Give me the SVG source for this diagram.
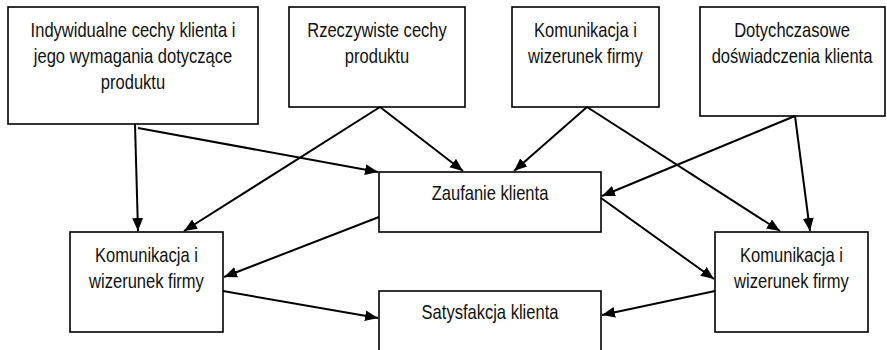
<svg xmlns="http://www.w3.org/2000/svg" width="887" height="350" viewBox="0 0 887 350">
<style>
.box{fill:#fff;stroke:#000;stroke-width:1.6}
.lbl{font-family:"Liberation Sans",Arial,sans-serif;font-size:19.5px;fill:#111;text-anchor:middle}
.conn line{stroke:#000;stroke-width:2;marker-end:url(#ah)}
</style>
<defs>
<marker id="ah" markerUnits="userSpaceOnUse" markerWidth="13" markerHeight="11" refX="12" refY="5" orient="auto" viewBox="0 0 12 10">
<path d="M0,0 L12,5 L0,10 Z" fill="#000"/>
</marker>
</defs>
<rect width="887" height="350" fill="#fff"/>
<g id="n1"><rect class="box" x="8" y="7" width="250" height="117"/>
<g transform="translate(133,0) scale(0.848,1)"><text class="lbl" x="0" y="37">Indywidualne cechy klienta i</text><text class="lbl" x="0" y="63">jego wymagania dotyczące</text><text class="lbl" x="0" y="89">produktu</text></g></g>
<g id="n2"><rect class="box" x="289" y="7" width="176" height="100"/>
<g transform="translate(377,0) scale(0.848,1)"><text class="lbl" x="0" y="37">Rzeczywiste cechy</text><text class="lbl" x="0" y="63">produktu</text></g></g>
<g id="n3"><rect class="box" x="512" y="7" width="147" height="100"/>
<g transform="translate(585.5,0) scale(0.848,1)"><text class="lbl" x="0" y="37">Komunikacja i</text><text class="lbl" x="0" y="63">wizerunek firmy</text></g></g>
<g id="n4"><rect class="box" x="700" y="7" width="185" height="109"/>
<g transform="translate(792,0) scale(0.848,1)"><text class="lbl" x="0" y="37">Dotychczasowe</text><text class="lbl" x="0" y="63">doświadczenia klienta</text></g></g>
<g id="n5"><rect class="box" x="379" y="172" width="222" height="60"/>
<g transform="translate(490,0) scale(0.848,1)"><text class="lbl" x="0" y="200">Zaufanie klienta</text></g></g>
<g id="n6"><rect class="box" x="70" y="232" width="153" height="100"/>
<g transform="translate(146.5,0) scale(0.848,1)"><text class="lbl" x="0" y="262">Komunikacja i</text><text class="lbl" x="0" y="288">wizerunek firmy</text></g></g>
<g id="n7"><rect class="box" x="715" y="232" width="153" height="100"/>
<g transform="translate(791.5,0) scale(0.848,1)"><text class="lbl" x="0" y="262">Komunikacja i</text><text class="lbl" x="0" y="288">wizerunek firmy</text></g></g>
<g id="n8"><rect class="box" x="379" y="291" width="222" height="70"/>
<g transform="translate(490,0) scale(0.848,1)"><text class="lbl" x="0" y="319">Satysfakcja klienta</text></g></g>
<g id="connectors" class="conn">
<line x1="135" y1="124" x2="138" y2="231"/>
<line x1="138" y1="128" x2="378" y2="172"/>
<line x1="380" y1="107" x2="184" y2="231"/>
<line x1="380" y1="107" x2="463" y2="171"/>
<line x1="587" y1="107" x2="514" y2="171"/>
<line x1="587" y1="107" x2="780" y2="231"/>
<line x1="795" y1="116" x2="602" y2="196"/>
<line x1="795" y1="116" x2="810" y2="231"/>
<line x1="379" y1="217" x2="224" y2="277"/>
<line x1="223" y1="291" x2="378" y2="318"/>
<line x1="601" y1="198" x2="714" y2="279"/>
<line x1="715" y1="291" x2="602" y2="315"/>
</g>
</svg>
